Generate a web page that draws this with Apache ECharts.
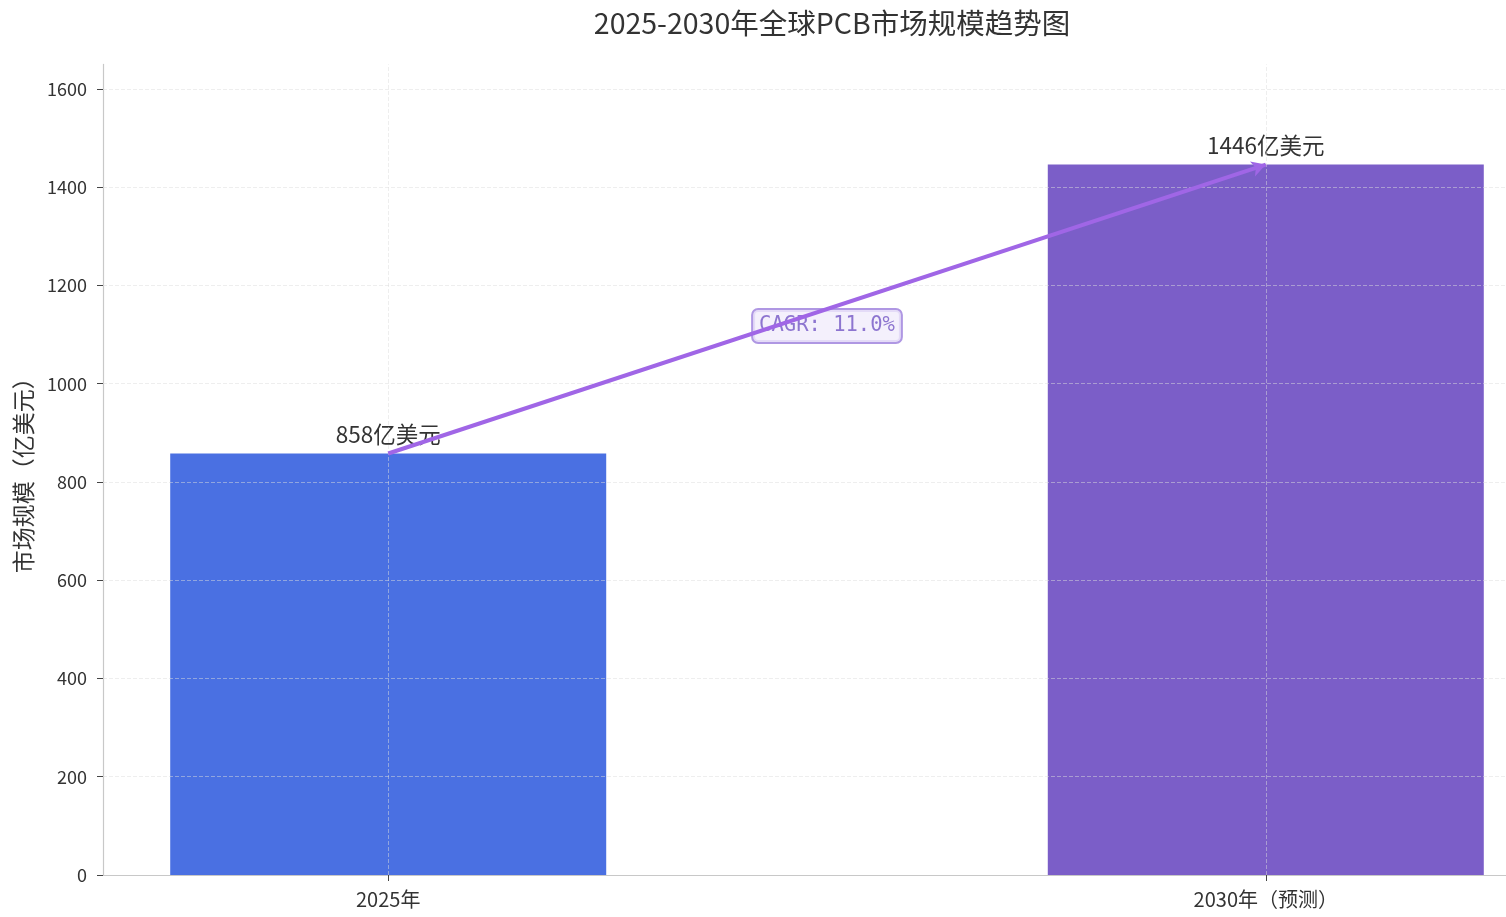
<!DOCTYPE html>
<html>
<head>
<meta charset="utf-8">
<script src="https://cdn.jsdelivr.net/npm/echarts@6/dist/echarts.min.js"></script>
<style>
html, body { margin: 0; padding: 0; background: #fff; }
#chart { width: 1506px; height: 917px; }
</style>
</head>
<body>
<div id="chart"></div>
<script>
var categories = ['2025年', '2030年（预测）'];
var marketValues = [858, 1446];
var yTicks = [0, 200, 400, 600, 800, 1000, 1200, 1400, 1600];
var years = 5;

var FONT = '"Noto Sans CJK SC", "DejaVu Sans", sans-serif';
var barColors = ['#4a70e2', '#7b5ec8'];

var cagr = Math.pow(marketValues[1] / marketValues[0], 1 / years) - 1;
var cagrText = 'CAGR: ' + (cagr * 100).toFixed(1) + '%';
var midValue = (marketValues[0] + marketValues[1]) / 2 * 0.97;

var gridLines = [];
yTicks.slice(1).forEach(function (v) { gridLines.push({ yAxis: v }); });
categories.forEach(function (c, i) { gridLines.push({ xAxis: i }); });

var chart = echarts.init(document.getElementById('chart'));
chart.setOption({
    backgroundColor: '#fff',
    animation: false,
    title: {
        text: '2025-2030年全球PCB市场规模趋势图',
        left: 827,
        textAlign: 'center',
        top: 4,
        textStyle: { fontFamily: FONT, fontSize: 28.5, fontWeight: 'normal', color: '#333' }
    },
    grid: { left: 103, top: 64.4, width: 1448, bottom: 42, outerBoundsMode: 'none', containLabel: false },
    xAxis: {
        type: 'value',
        min: -0.325,
        max: 1.325,
        axisLine: { show: true, onZero: false, lineStyle: { color: '#c8c8c8', width: 1.2 } },
        axisTick: { show: true, customValues: [0, 1], length: 6, lineStyle: { color: '#444' } },
        axisLabel: {
            customValues: [0, 1],
            formatter: function (v) { return categories[Math.round(v)]; },
            fontFamily: FONT, fontSize: 20, color: '#333', margin: 14
        },
        splitLine: { show: false }
    },
    yAxis: {
        type: 'value',
        min: 0,
        max: 1650,
        interval: 200,
        name: '市场规模（亿美元）',
        nameLocation: 'middle',
        nameGap: 68,
        nameTextStyle: { fontFamily: FONT, fontSize: 23, color: '#333' },
        axisLine: { show: true, onZero: false, lineStyle: { color: '#c8c8c8', width: 1.2 } },
        axisTick: { show: true, customValues: yTicks, length: 6, lineStyle: { color: '#444' } },
        axisLabel: {
            customValues: yTicks,
            formatter: function (v) { return String(v); },
            fontFamily: FONT, fontSize: 18, color: '#333', margin: 16
        },
        splitLine: { show: false }
    },
    series: [
        {
            type: 'bar',
            barWidth: 436,
            z: 2,
            data: marketValues.map(function (v, i) {
                return { value: [i, v], itemStyle: { color: barColors[i] } };
            }),
            label: {
                show: true,
                position: 'top',
                distance: 8,
                formatter: function (p) { return p.value[1] + '亿美元'; },
                fontFamily: FONT, fontSize: 22.5, color: '#333'
            }
        },
        {
            type: 'scatter',
            symbolSize: 0,
            z: 3,
            data: [[0.5, midValue]],
            label: {
                show: true,
                position: 'inside',
                formatter: cagrText,
                fontFamily: '"DejaVu Sans Mono", monospace',
                fontSize: 20.5,
                color: '#7356c4',
                backgroundColor: '#f1ecfb',
                borderColor: '#9b7ddc',
                borderWidth: 2,
                borderRadius: 5,
                padding: [6, 6, 5, 6]
            },
            silent: true
        },
        {
            type: 'line',
            data: [],
            z: 4,
            markLine: {
                silent: true,
                symbol: 'none',
                label: { show: false },
                lineStyle: { color: 'rgba(220,220,220,0.55)', type: [4, 2], width: 0.9 },
                data: gridLines
            }
        },
        {
            type: 'line',
            data: [],
            z: 5,
            markLine: {
                silent: true,
                symbol: ['none', 'arrow'],
                symbolSize: [12, 14],
                label: { show: false },
                lineStyle: { color: '#a066e6', type: 'solid', width: 4 },
                data: [[
                    { coord: [0, marketValues[0]] },
                    { coord: [1, marketValues[1]] }
                ]]
            }
        }
    ]
});
</script>
</body>
</html>
